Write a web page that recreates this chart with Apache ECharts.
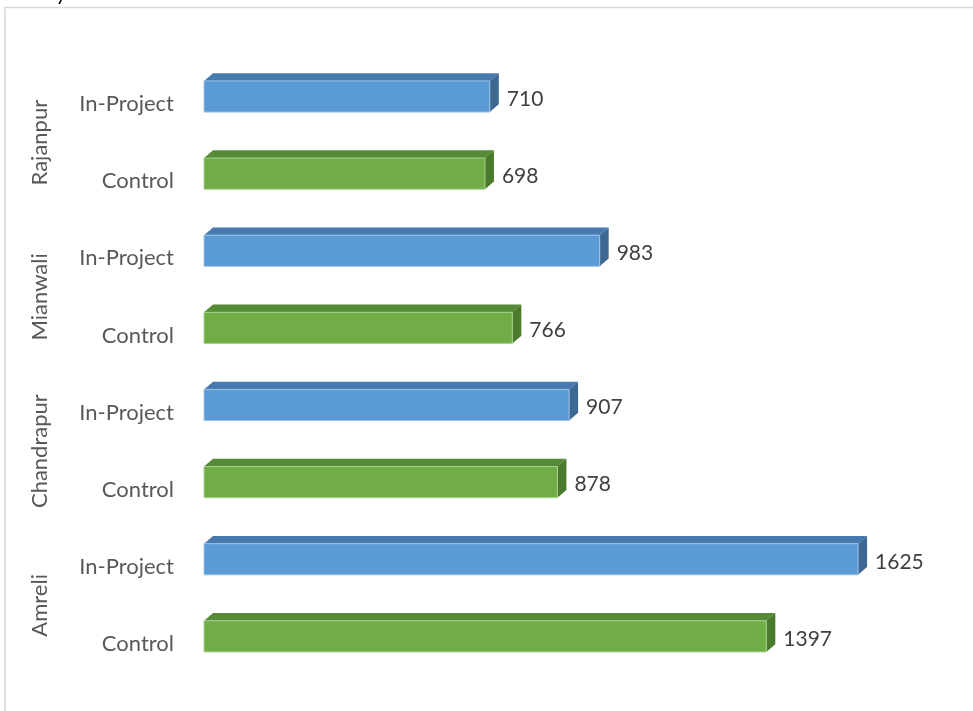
<!DOCTYPE html>
<html><head><meta charset="utf-8">
<script src="https://cdn.jsdelivr.net/npm/echarts@6/dist/echarts.min.js"></script>
<style>html,body{margin:0;padding:0;background:#fff}#c{width:973px;height:711px}</style>
</head><body><div id="c"></div>
<script>
const regions = ['Amreli', 'Chandrapur', 'Mianwali', 'Rajanpur'];
const groupLabels = ['Control', 'In-Project'];
const controlValues = [1397, 878, 766, 698];
const inProjectValues = [1625, 907, 983, 710];

const categories = [];
regions.forEach(() => { categories.push(groupLabels[0], groupLabels[1]); });
const controlData = controlValues.map((v, i) => [v, i * 2]);
const inProjectData = inProjectValues.map((v, i) => [v, i * 2 + 1]);

const FONT = 'Lato, "Open Sans", sans-serif';

function makeRender(front, top, side, edge) {
  return function (params, api) {
    const val = api.value(0), idx = api.value(1);
    const p0 = api.coord([0, idx]);
    const p1 = api.coord([val, idx]);
    const band = api.size([0, 1])[1];
    const cy = p0[1];
    const y0 = cy - 0.30 * band, y1 = cy + 0.104 * band;
    const dx = 0.117 * band, dy = 0.10 * band;
    const x0 = p0[0], x1 = p1[0];
    return {
      type: 'group',
      children: [
        { type: 'polygon', shape: { points: [[x0, y0], [x0 + dx, y0 - dy], [x1 + dx, y0 - dy], [x1, y0]] }, style: { fill: top } },
        { type: 'polygon', shape: { points: [[x1, y0], [x1 + dx, y0 - dy], [x1 + dx, y1 - dy], [x1, y1]] }, style: { fill: side } },
        { type: 'rect', shape: { x: x0, y: y0, width: x1 - x0, height: y1 - y0 }, style: { fill: front, stroke: edge, lineWidth: 1 } },
        { type: 'text', style: { text: String(val), x: x1 + 17, y: cy - 5, verticalAlign: 'middle', textAlign: 'left', fill: '#404040', font: '21px ' + FONT } }
      ]
    };
  };
}

const chart = echarts.init(document.getElementById('c'), null, { renderer: 'canvas' });
chart.setOption({
  backgroundColor: '#fff',
  animation: false,
  graphic: [
    { type: 'rect', z: -10, shape: { x: 5, y: 7.5, width: 1000, height: 1000 }, style: { fill: 'none', stroke: '#D9D9D9', lineWidth: 1.5 } },
    { type: 'text', left: 57, top: -17, style: { text: 'y', font: 'italic 21px ' + FONT, fill: '#000' } }
  ],
  grid: { left: 204, top: 65.5, width: 724.5, height: 617, containLabel: false },
  xAxis: { type: 'value', min: 0, max: 1800, show: false, splitLine: { show: false } },
  yAxis: [
    {
      type: 'category', data: categories, position: 'left',
      axisLine: { show: false }, axisTick: { show: false },
      axisLabel: { margin: 30, color: '#595959', fontSize: 22, fontFamily: FONT }
    },
    {
      type: 'category', data: regions, position: 'left', offset: 153,
      axisLine: { show: false }, axisTick: { show: false },
      axisLabel: { margin: 0, rotate: 90, color: '#595959', fontSize: 22, fontFamily: FONT }
    }
  ],
  series: [
    { type: 'custom', name: 'Control', yAxisIndex: 0, encode: { x: 0, y: 1 }, data: controlData,
      renderItem: makeRender('#70AD47', '#558A36', '#4A7A2C', '#A9D18E') },
    { type: 'custom', name: 'In-Project', yAxisIndex: 0, encode: { x: 0, y: 1 }, data: inProjectData,
      renderItem: makeRender('#5B9BD5', '#4679AE', '#3D6891', '#9DC3E6') }
  ]
});
</script></body></html>
